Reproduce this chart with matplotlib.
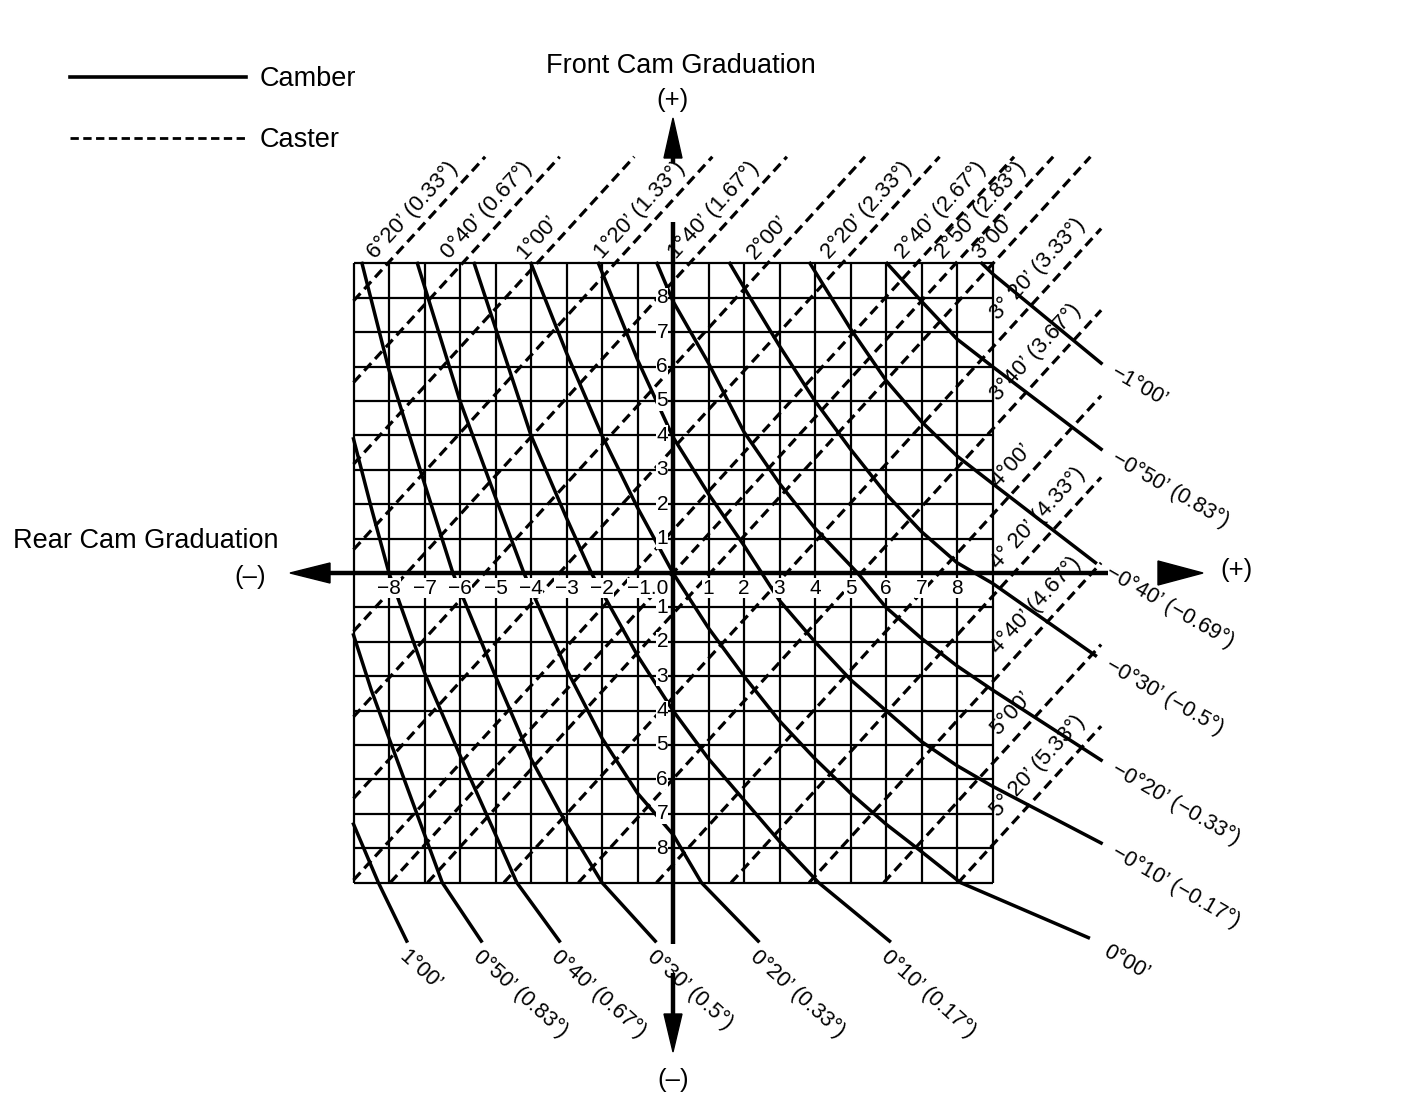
import numpy as np
import matplotlib.pyplot as plt
from matplotlib.lines import Line2D

plt.rcParams['font.family'] = ['Liberation Sans', 'DejaVu Sans']

# ------------------------------------------------------
# CHART DATA
# ------------------------------------------------------

# cam graduations (grid runs from -9 to 9 on both cams)
grad_lines = np.arange(-9, 10)
x_tick_vals = [-8, -7, -6, -5, -4, -3, -2, -1, 1, 2, 3, 4, 5, 6, 7, 8]
x_tick_text = ['\u22128', '\u22127', '\u22126', '\u22125', '\u22124', '\u22123', '\u22122', '\u22121.0',
               '1', '2', '3', '4', '5', '6', '7', '8']
y_tick_vals = [8, 7, 6, 5, 4, 3, 2, 1, -1, -2, -3, -4, -5, -6, -7, -8]

# caster lines (dashed): straight, slope in graduations, crossing of the rear cam axis
caster_text = ["6\u00b020\u2019 (0.33\u00b0)", "0\u00b040\u2019 (0.67\u00b0)", "1\u00b000\u2019",
               "1\u00b020\u2019 (1.33\u00b0)", "1\u00b040\u2019 (1.67\u00b0)", "2\u00b000\u2019",
               "2\u00b020\u2019 (2.33\u00b0)", "2\u00b040\u2019 (2.67\u00b0)", "2\u00b050\u2019 (2.83\u00b0)",
               "3\u00b000\u2019", "3\u00b0 20\u2019 (3.33\u00b0)", "3\u00b040\u2019 (3.67\u00b0)", "4\u00b000\u2019",
               "4\u00b0 20\u2019 (4.33\u00b0)", "4\u00b040\u2019 (4.67\u00b0)", "5\u00b000\u2019",
               "5\u00b0 20\u2019 (5.33\u00b0)"]
caster_x0 = [-16.0, -13.9, -11.8, -9.6, -7.5, -5.3, -3.2, -1.1, 0.0, 1.05,
             3.2, 5.3, 7.5, 9.6, 11.8, 13.9, 16.0]
caster_slope = 1.13
caster_top_end = 12.1     # leader lines above the grid stop here
caster_right_end = 12.06  # leader lines right of the grid stop here

# camber curves (solid): points, last point = leader end
cam_p60 = [(-9, -7.3), (-8.3, -9.0), (-7.5, -10.7)]
cam_p50 = [(-9, -1.8), (-8.5, -3.4), (-8, -4.8), (-7.5, -6.2), (-7, -7.6), (-6.5, -9.0), (-5.4, -10.7)]
cam_p40 = [(-9, 3.9), (-8.5, 1.9), (-8, 0.0), (-7, -2.9), (-6, -5.3), (-5, -7.6), (-4.4, -9.0), (-3.2, -10.7)]
cam_p30 = [(-8.76, 9), (-8, 5.9), (-7, 2.6), (-6.2, 0.0), (-5, -3.0), (-4, -5.4), (-3, -7.3), (-2, -9.0),
           (-0.5, -10.7)]
cam_p20 = [(-7.2, 9), (-6, 5.0), (-5, 2.2), (-4.2, 0.0), (-3, -2.8), (-2, -4.8), (-1, -6.4), (0, -7.6),
           (0.8, -9.0), (2.4, -10.7)]
cam_p10 = [(-5.6, 9), (-4, 4.0), (-3, 1.6), (-2.3, 0.0), (-1, -2.4), (0, -4.0), (1, -5.4), (2, -6.6),
           (3, -7.8), (4.1, -9.0), (6.1, -10.7)]
cam_0 = [(-4.0, 9), (-3, 6.4), (-2, 4.0), (-1, 1.9), (0, 0.0), (1, -1.6), (2, -3.0), (3, -4.3), (4, -5.4),
         (5, -6.4), (6, -7.3), (7, -8.1), (8.1, -9.0), (11.7, -10.6)]
cam_m10 = [(-2.1, 9), (-1, 6.2), (0, 3.95), (1, 2.3), (2, 0.8), (2.5, 0.0), (3, -0.8), (4, -2.0), (5, -3.1),
           (6, -4.0), (7, -4.9), (8, -5.6), (9, -6.2), (12.06, -7.85)]
cam_m20 = [(-0.45, 9), (0, 7.9), (1, 6.1), (2, 4.1), (3, 2.6), (4, 1.3), (5.2, 0.0), (6, -1.0), (7, -1.9),
           (8, -2.7), (9, -3.4), (12.06, -5.44)]
cam_m30 = [(1.6, 9), (2, 8.3), (3, 6.6), (4, 5.0), (5, 3.6), (6, 2.3), (7, 1.2), (8, 0.3), (9, -0.3),
           (11.9, -2.4)]
cam_m40 = [(3.86, 9), (5, 7.1), (6, 5.6), (7, 4.4), (8, 3.4), (9, 2.6), (11.9, 0.3)]
cam_m50 = [(6.03, 9), (7, 7.9), (8, 6.8), (9, 6.0), (12.06, 3.6)]
cam_m60 = [(8.7, 9), (9, 8.7), (12.06, 6.1)]

camber_curves = [cam_p60, cam_p50, cam_p40, cam_p30, cam_p20, cam_p10, cam_0,
                 cam_m10, cam_m20, cam_m30, cam_m40, cam_m50, cam_m60]
camber_text = ["1\u00b000\u2019", "0\u00b050\u2019 (0.83\u00b0)", "0\u00b040\u2019 (0.67\u00b0)",
               "0\u00b030\u2019 (0.5\u00b0)", "0\u00b020\u2019 (0.33\u00b0)", "0\u00b010\u2019 (0.17\u00b0)",
               "0\u00b000\u2019", "\u22120\u00b010\u2019 (\u22120.17\u00b0)", "\u22120\u00b020\u2019 (\u22120.33\u00b0)",
               "\u22120\u00b030\u2019 (\u22120.5\u00b0)", "\u22120\u00b040\u2019 (\u22120.69\u00b0)",
               "\u22120\u00b050\u2019 (0.83\u00b0)", "\u22121\u00b000\u2019"]


# ------------------------------------------------------
# PAGE SETUP: one graduation = SX by SY pixels
# ------------------------------------------------------

W, H = 1408, 1118
OX, OY = 673, 573
SX, SY = 35.5, 34.4

fig = plt.figure(figsize=(W / 100, H / 100), dpi=100)
ax = fig.add_axes([0, 0, 1, 1])
ax.set_xlim(-OX / SX, (W - OX) / SX)
ax.set_ylim((OY - H) / SY, OY / SY)
ax.axis('off')


def P(x, y):
    # page pixel -> chart units, used only to place text and arrows
    return (x - OX) / SX, (OY - y) / SY


cam_font = 15.5
cas_font = 16
tick_font = 15
big_font = 19.5

# grid
for g in grad_lines:
    ax.plot([g, g], [-9, 9], color='black', lw=1.6, solid_capstyle='butt', zorder=1)
    ax.plot([-9, 9], [g, g], color='black', lw=1.6, solid_capstyle='butt', zorder=1)

# caster lines
s = caster_slope
ang = np.degrees(np.arctan2(s * SY, SX))
ux, uy = np.cos(np.radians(ang)), np.sin(np.radians(ang))
for x0, txt in zip(caster_x0, caster_text):
    xa = max(-9, x0 - 9 / s)
    if x0 + 9 / s <= 9.05:
        xe, ye = x0 + caster_top_end / s, caster_top_end
        sx_, sy_ = x0 + 9 / s, 9
        along, side = -6, 7
    else:
        xe, ye = caster_right_end, s * (caster_right_end - x0)
        sx_, sy_ = 9, s * (9 - x0)
        along, side = 24, 9
    ax.plot([xa, xe], [s * (xa - x0), ye], color='black', lw=2.3,
            dashes=(3.2, 1.8), zorder=2)
    # label along the line, on its upper-left side
    tx = sx_ + (along * ux - side * uy) / SX
    ty = sy_ + (along * uy + side * ux) / SY
    ax.text(tx, ty, txt, rotation=ang, rotation_mode='anchor', ha='left', va='bottom',
            fontsize=cas_font, zorder=5)

# camber curves
for pts, txt in zip(camber_curves, camber_text):
    xs = [p[0] for p in pts]
    ys = [p[1] for p in pts]
    ax.plot(xs, ys, color='black', lw=2.5, solid_joinstyle='round', zorder=3)
    ex, ey = pts[-1]
    if ey < -10:
        if ex > 10:
            ax.text(ex + 22 / SX, ey - 4 / SY, txt, rotation=-30, rotation_mode='anchor',
                    ha='left', va='top', fontsize=cam_font, zorder=5)
        else:
            ax.text(ex + 2 / SX, ey - 5 / SY, txt, rotation=-42, rotation_mode='anchor',
                    ha='left', va='top', fontsize=cam_font, zorder=5)
    else:
        ax.text(ex + 12 / SX, ey - 8 / SY, txt, rotation=-30, rotation_mode='anchor',
                ha='left', va='center', fontsize=cam_font, zorder=5)

# cam axes with arrow heads
axis_kw = dict(color='black', lw=3.2, solid_capstyle='butt', zorder=4)
ax.plot(*zip(P(320, 573), P(1108, 573)), **axis_kw)
ax.plot(*zip(P(673, 150), P(673, 163)), **axis_kw)
ax.plot(*zip(P(673, 222), P(673, 944)), **axis_kw)
ax.plot(*zip(P(673, 973), P(673, 1020)), **axis_kw)


def head(tip, base, half):
    (tx, ty) = P(*tip)
    dx, dy = (tip[0] - base[0]), (tip[1] - base[1])
    n = np.hypot(dx, dy)
    px_, py_ = -dy / n * half, dx / n * half
    c1 = P(base[0] + px_, base[1] + py_)
    c2 = P(base[0] - px_, base[1] - py_)
    ax.fill([tx, c1[0], c2[0]], [ty, c1[1], c2[1]], color='black', zorder=4)


head((290, 573), (330, 573), 10)
head((1203, 573), (1158, 573), 12)
head((673, 118), (673, 158), 9)
head((673, 1052), (673, 1014), 9)

# tick numbers
for v, t in zip(x_tick_vals, x_tick_text):
    xv = v + 0.3 if v == -1 else v
    ax.text(xv, P(0, 588)[1], t, ha='center', va='center', fontsize=tick_font,
            zorder=6, bbox=dict(fc='white', ec='none', pad=0.3))
for v in y_tick_vals:
    ax.text(P(668, 0)[0], v, str(abs(v)), ha='right', va='center', fontsize=tick_font,
            zorder=6, bbox=dict(fc='white', ec='none', pad=0.3))

# titles
ax.text(*P(681, 66), "Front Cam Graduation", ha='center', va='center', fontsize=big_font)
ax.text(*P(673, 100), "(+)", ha='center', va='center', fontsize=big_font - 1)
ax.text(*P(673, 1080), "(\u2013)", ha='center', va='center', fontsize=big_font - 1)
ax.text(*P(13, 541), "Rear Cam Graduation", ha='left', va='center', fontsize=big_font)
ax.text(*P(250, 577), "(\u2013)", ha='center', va='center', fontsize=big_font - 1)
ax.text(*P(1237, 570), "(+)", ha='center', va='center', fontsize=big_font - 1)

# legend
handles = [Line2D([], [], color='black', lw=2.6, label='Camber'),
           Line2D([], [], color='black', lw=2.0, dashes=(3.0, 1.6), label='Caster')]
ax.legend(handles=handles, loc='upper left', bbox_to_anchor=(70 / W, 1 - 66 / H),
          frameon=False, fontsize=big_font, handlelength=6.5, handletextpad=0.5,
          labelspacing=1.3, borderpad=0, borderaxespad=0)

fig.savefig('out.png', dpi=100)
